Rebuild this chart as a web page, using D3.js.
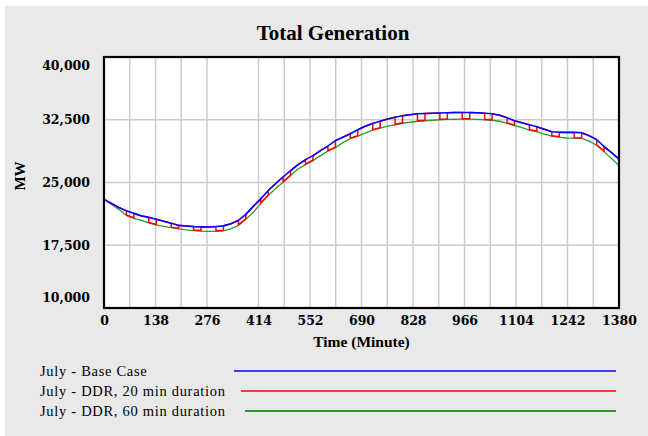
<!DOCTYPE html>
<html><head><meta charset="utf-8">
<script src="https://cdn.jsdelivr.net/npm/d3@7/dist/d3.min.js"></script>
<style>body{margin:0;background:#fff}svg{display:block}</style>
</head><body>
<svg id="chart" width="648" height="436"></svg>
<script>
// ---------- data ----------
const title = "Total Generation";
const xTitle = "Time (Minute)";
const yTitle = "MW";
const xTicks = [0, 138, 276, 414, 552, 690, 828, 966, 1104, 1242, 1380];
const yTicks = [10000, 17500, 25000, 32500, 40000];
const xGrid = [69, 138, 207, 276, 414, 483, 552, 621, 690, 759, 828, 897, 966, 1035, 1104, 1173, 1242, 1311];

const times = [0,20,40,60,80,100,120,140,160,180,200,220,240,260,280,300,320,340,360,380,
  400,420,440,460,480,500,520,540,560,580,600,620,640,660,680,700,720,740,760,780,
  800,820,840,860,880,900,920,940,960,980,1000,1020,1040,1060,1080,1100,1120,1140,1160,1180,
  1200,1220,1240,1260,1280,1300,1320,1340,1360,1380];

const baseCase = [22980,22500,22020,21610,21310,21010,20830,20600,20360,20120,
  19880,19800,19730,19700,19680,19740,19820,20060,20480,21190,
  22140,23040,24050,24880,25660,26430,27140,27740,28210,28810,
  29350,30000,30420,30830,31310,31730,32060,32320,32580,32800,
  32980,33100,33210,33250,33270,33300,33330,33360,33370,33360,
  33330,33270,33210,33040,32740,32380,32140,31900,31670,31370,
  31070,31010,30990,30990,30950,30600,30120,29290,28570,27800];

const ddr60 = [22980,22380,21790,21070,20710,20480,20180,19940,19760,19610,
  19460,19350,19260,19200,19170,19170,19230,19460,19880,20600,
  21430,22500,23450,24290,25040,25830,26610,27140,27620,28210,
  28750,29170,29760,30240,30540,30890,31250,31490,31730,31900,
  32080,32200,32320,32380,32440,32500,32540,32560,32580,32570,
  32550,32500,32440,32320,32080,31790,31550,31250,31070,30770,
  30540,30420,30320,30300,30270,29940,29460,28690,27860,27020];

const ddr20Time = [0,20,40,
  60,60,80,80,100, 120,120,140,140,160, 180,180,200,200,220, 240,240,260,260,280,
  300,300,320,320,340, 360,360,380,380,400, 420,420,440,440,460, 480,480,500,500,520,
  540,540,560,560,580, 600,600,620,620,640, 660,660,680,680,700, 720,720,740,740,760,
  780,780,800,800,820, 840,840,860,860,880, 900,900,920,920,940, 960,960,980,980,1000,
  1020,1020,1040,1040,1060, 1080,1080,1100,1100,1120, 1140,1140,1160,1160,1180,
  1200,1200,1220,1220,1240, 1260,1260,1280,1280,1300, 1320,1320,1340,1340,1360, 1380];
const ddr20 = [22980,22500,22020,
  21610,21120,20760,21310,21010, 20830,20230,19990,20600,20360, 20120,19660,19510,19880,19800,
  19730,19310,19250,19700,19680, 19740,19220,19280,19820,20060, 20480,19930,20650,21190,22140,
  23040,22550,23500,24050,24880, 25660,25090,25880,26430,27140, 27740,27190,27670,28210,28810,
  29350,28800,29220,30000,30420, 30830,30290,30590,31310,31730, 32060,31300,31540,32320,32580,
  32800,31950,32130,32980,33100, 33210,32370,32430,33250,33270, 33300,32550,32590,33330,33360,
  33370,32630,32620,33360,33330, 33270,32550,32490,33210,33040, 32740,32130,31840,32380,32140,
  31900,31300,31120,31670,31370, 31070,30590,30470,31010,30990, 30990,30350,30320,30950,30600,
  30120,29510,28740,29290,28570, 27800];

const seriesNames = ["July - Base Case", "July - DDR, 20 min duration", "July - DDR, 60 min duration"];
const seriesColors = ["#0000ff", "#ff0000", "#2e9a2e"];

// ---------- chart ----------
const svg = d3.select("#chart");
svg.append("rect").attr("x", 5).attr("y", 6).attr("width", 643).attr("height", 430).attr("fill", "#e9e9e9");

const L = 104, R = 619, T = 57, B = 308;
const x = d3.scaleLinear().domain([0, 1380]).range([L, R]);
const y = d3.scaleLinear().domain([10000, 40000]).range([B, T]);

svg.append("rect").attr("x", L).attr("y", T).attr("width", R - L).attr("height", B - T).attr("fill", "#fff");

// grid
svg.append("g").selectAll("line").data(xGrid).join("line")
  .attr("x1", d => x(d)).attr("x2", d => x(d)).attr("y1", T).attr("y2", B)
  .attr("stroke", "#cbcbcb").attr("stroke-width", 1.5);
svg.append("g").selectAll("line").data(yTicks.slice(1, -1)).join("line")
  .attr("x1", L).attr("x2", R).attr("y1", d => y(d)).attr("y2", d => y(d))
  .attr("stroke", "#cbcbcb").attr("stroke-width", 1.5);

// lines
const lineA = d3.line().x(d => x(d[0])).y(d => y(d[1]));
const s60 = times.map((t, i) => [t, ddr60[i]]);
const s20 = ddr20Time.map((t, i) => [t, ddr20[i]]);
const sBase = times.map((t, i) => [t, baseCase[i]]);
svg.append("path").datum(s60).attr("d", lineA).attr("fill", "none").attr("stroke", seriesColors[2]).attr("stroke-width", 1.3);
svg.append("path").datum(s20).attr("d", lineA).attr("fill", "none").attr("stroke", seriesColors[1]).attr("stroke-width", 1.5);
svg.append("path").datum(sBase).attr("d", lineA).attr("fill", "none").attr("stroke", seriesColors[0]).attr("stroke-width", 1.6);

// frame
svg.append("rect").attr("x", L).attr("y", T).attr("width", R - L).attr("height", B - T)
  .attr("fill", "none").attr("stroke", "#000").attr("stroke-width", 2.2);

// axes
const fontTick = "'DejaVu Serif', serif";
const xAxis = svg.append("g").attr("transform", `translate(0,${B})`)
  .call(d3.axisBottom(x).tickValues(xTicks).tickSize(0).tickPadding(8).tickFormat(d3.format("d")));
xAxis.select(".domain").remove();
xAxis.selectAll("text").attr("font-family", fontTick).attr("font-weight", "bold")
  .attr("font-size", 12.5).attr("fill", "#000");

const yAxis = svg.append("g").attr("transform", `translate(${L},0)`)
  .call(d3.axisLeft(y).tickValues(yTicks).tickSize(0).tickPadding(14).tickFormat(d3.format(",")));
yAxis.select(".domain").remove();
yAxis.selectAll("text").attr("font-family", fontTick).attr("font-weight", "bold")
  .attr("font-size", 12.5).attr("fill", "#000")
  .attr("dy", d => d === 40000 ? "1.0em" : d === 10000 ? "-0.55em" : "0.32em");

// titles
svg.append("text").attr("x", 333).attr("y", 40).attr("text-anchor", "middle")
  .attr("font-family", "'Liberation Serif', serif").attr("font-weight", "bold").attr("font-size", 21)
  .text(title);
svg.append("text").attr("x", (L + R) / 2).attr("y", 347).attr("text-anchor", "middle")
  .attr("font-family", "'Liberation Serif', serif").attr("font-weight", "bold").attr("font-size", 15.5)
  .text(xTitle);
svg.append("text").attr("transform", "translate(25,176) rotate(-90)").attr("text-anchor", "middle")
  .attr("font-family", "'Liberation Serif', serif").attr("font-weight", "bold").attr("font-size", 15)
  .text(yTitle);

// legend
const legY = [371, 391, 411];
const legX1 = [234, 241, 245];
const leg = svg.append("g");
seriesNames.forEach((n, i) => {
  leg.append("text").attr("x", 40).attr("y", legY[i]).attr("dy", "0.35em")
    .attr("font-family", "'Liberation Serif', serif").attr("font-size", 14.5)
    .attr("letter-spacing", 0.7).text(n);
  leg.append("line").attr("x1", legX1[i]).attr("x2", 616).attr("y1", legY[i]).attr("y2", legY[i])
    .attr("stroke", seriesColors[i]).attr("stroke-width", i === 2 ? 2 : 1.5);
});
</script>
</body></html>
